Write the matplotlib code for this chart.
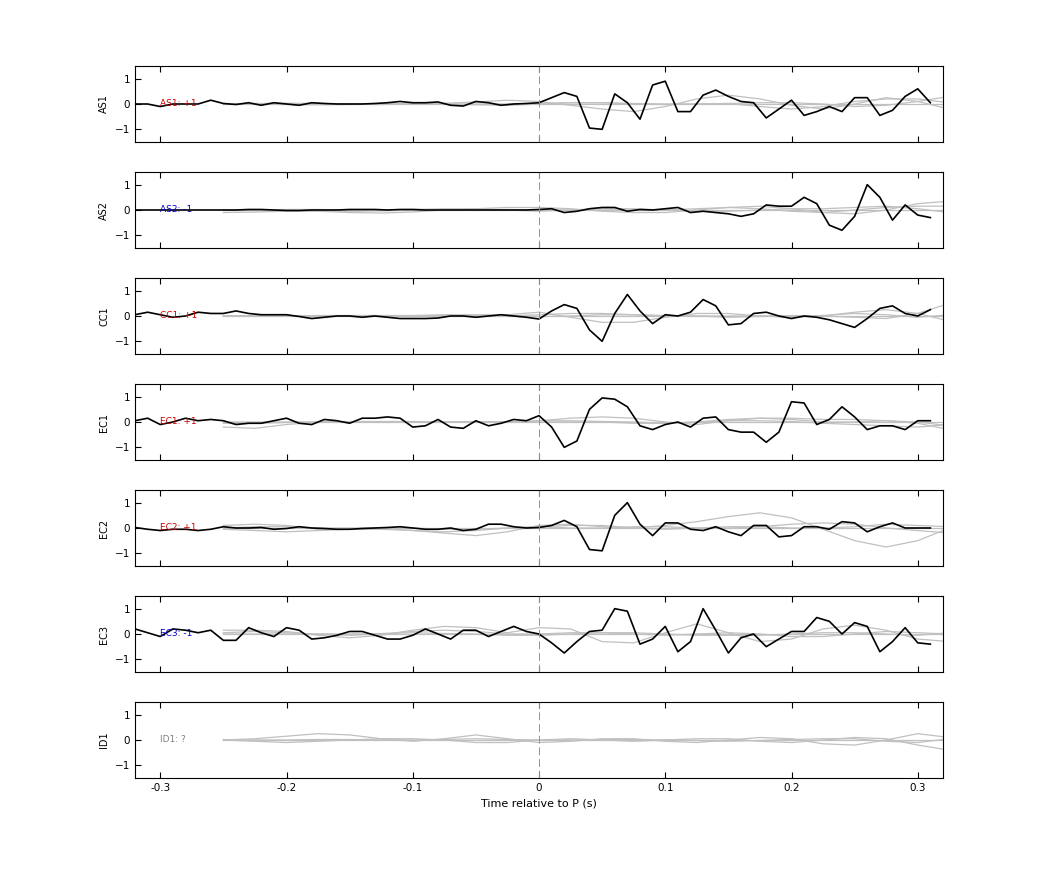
import numpy as np
import matplotlib.pyplot as plt

# station names and polarity labels
stations = ["AS1", "AS2", "CC1", "EC1", "EC2", "EC3", "ID1"]
labels = ["AS1: +1", "AS2: -1", "CC1: +1", "EC1: +1", "EC2: +1", "EC3: -1", "ID1: ?"]
label_colors = ["#cc0000", "#0000cc", "#cc0000", "#cc0000", "#cc0000", "#0000cc", "#808080"]

# observed trace, sampled every 0.01 s from -0.32 to 0.31
t_obs = np.round(np.arange(-0.32, 0.315, 0.01), 2)
obs = {
    "AS1": [0, 0, -0.1, 0, 0, 0, 0.15, 0.02, -0.02, 0.05, -0.05, 0.05, 0, -0.05, 0.05, 0.02,
            0, 0, 0, 0.02, 0.05, 0.1, 0.05, 0.05, 0.08, -0.05, -0.08, 0.1, 0.05, -0.05, 0, 0.02,
            0.05, 0.25, 0.45, 0.3, -0.95, -1.0, 0.4, 0.05, -0.6, 0.75, 0.9, -0.3, -0.3, 0.35, 0.55, 0.3,
            0.1, 0.05, -0.55, -0.2, 0.15, -0.45, -0.3, -0.1, -0.3, 0.25, 0.25, -0.45, -0.25, 0.3, 0.6, 0.05],
    "AS2": [0, 0, 0, 0, 0, 0, 0, 0, 0, 0.02, 0.02, 0, -0.02, -0.02, 0, 0,
            0, 0.02, 0.02, 0.02, 0, 0.02, 0.02, 0, 0, 0, 0, 0, 0, 0, 0, 0,
            0.02, 0.05, -0.1, -0.05, 0.05, 0.1, 0.1, -0.05, 0.02, 0, 0.05, 0.1, -0.1, -0.05, -0.1, -0.15,
            -0.25, -0.15, 0.2, 0.15, 0.15, 0.5, 0.25, -0.6, -0.8, -0.25, 1.0, 0.5, -0.4, 0.2, -0.2, -0.3],
    "CC1": [0.05, 0.15, 0.05, -0.05, 0, 0.15, 0.1, 0.1, 0.2, 0.1, 0.05, 0.05, 0.05, -0.02, -0.1, -0.05,
            0, 0, -0.05, 0, -0.05, -0.1, -0.1, -0.1, -0.08, 0, 0, -0.05, 0, 0.05, 0, -0.05,
            -0.12, 0.2, 0.45, 0.3, -0.55, -1.0, 0.1, 0.85, 0.2, -0.3, 0.05, 0, 0.15, 0.65, 0.4, -0.35,
            -0.3, 0.1, 0.15, 0, -0.1, 0, -0.05, -0.15, -0.3, -0.45, -0.1, 0.3, 0.4, 0.1, 0, 0.25],
    "EC1": [0.05, 0.15, -0.1, 0, 0.15, 0.05, 0.1, 0.05, -0.1, -0.05, -0.05, 0.05, 0.15, -0.05, -0.1, 0.1,
            0.05, -0.05, 0.15, 0.15, 0.2, 0.15, -0.2, -0.15, 0.1, -0.2, -0.25, 0.05, -0.15, -0.05, 0.1, 0.05,
            0.25, -0.2, -1.0, -0.75, 0.5, 0.95, 0.9, 0.6, -0.15, -0.3, -0.1, 0, -0.2, 0.15, 0.2, -0.3,
            -0.4, -0.4, -0.8, -0.4, 0.8, 0.75, -0.1, 0.1, 0.6, 0.2, -0.3, -0.15, -0.15, -0.3, 0.05, 0.05],
    "EC2": [0.02, -0.05, -0.1, -0.05, -0.05, -0.1, -0.05, 0.05, 0, 0, 0.02, -0.05, -0.02, 0.05, 0, -0.02,
            -0.05, -0.05, -0.02, 0, 0.02, 0.05, 0, -0.05, -0.05, 0, -0.1, -0.05, 0.15, 0.15, 0.05, 0,
            0.02, 0.1, 0.3, 0.05, -0.85, -0.9, 0.5, 1.0, 0.15, -0.3, 0.2, 0.2, -0.05, -0.1, 0.05, -0.15,
            -0.3, 0.1, 0.1, -0.35, -0.3, 0.05, 0.05, -0.05, 0.25, 0.2, -0.15, 0.05, 0.2, 0, 0, 0],
    "EC3": [0.2, 0.05, -0.1, 0.2, 0.15, 0.05, 0.15, -0.25, -0.25, 0.25, 0.05, -0.1, 0.25, 0.15, -0.2, -0.15,
            -0.05, 0.1, 0.1, -0.05, -0.2, -0.2, -0.05, 0.2, 0, -0.2, 0.15, 0.15, -0.1, 0.1, 0.3, 0.1,
            0, -0.35, -0.75, -0.3, 0.1, 0.15, 1.0, 0.9, -0.4, -0.2, 0.3, -0.7, -0.3, 1.0, 0.15, -0.75,
            -0.15, 0, -0.5, -0.2, 0.1, 0.1, 0.65, 0.5, 0, 0.45, 0.3, -0.7, -0.3, 0.25, -0.35, -0.4],
}

# synthetic (gray) traces, sampled every 0.025 s from -0.25 to 0.325
t_syn = np.round(np.arange(-0.25, 0.33, 0.025), 3)
syn = {
    "AS1": [[0, 0.02, 0.03, 0.02, 0, -0.02, 0, 0.03, 0.08, 0.15, 0.1, -0.05, -0.2, -0.3, -0.1, 0.2, 0.35, 0.2, -0.05, -0.2, 0, 0.25, 0.1, -0.2],
            [0, 0, 0, 0, 0, 0, 0, 0, 0, 0, 0.02, 0.05, 0.05, 0.02, 0, 0, 0.02, 0.05, 0.05, 0, -0.1, -0.05, 0.1, 0.3],
            [0, 0, -0.02, -0.03, -0.02, 0, 0.02, 0, -0.03, -0.05, 0, 0.05, 0.05, 0, -0.02, 0, 0.02, -0.1, -0.2, -0.1, 0.1, 0.2, 0.2, 0.05]],
    "AS2": [[-0.1, -0.08, -0.05, -0.05, -0.1, -0.12, -0.08, 0, 0.05, 0.1, 0.1, 0.05, -0.05, -0.1, -0.1, 0, 0.1, 0.15, 0.05, -0.1, -0.15, 0, 0.25, 0.35],
            [0, 0, 0.02, 0.02, 0, 0, 0.02, 0.05, 0.05, 0, -0.05, 0, 0.05, 0.05, 0, -0.05, -0.05, 0, 0.05, 0.05, 0.1, 0.15, 0.05, -0.1],
            [0, 0, 0, -0.02, -0.05, -0.03, 0, 0, 0, 0.02, 0, 0, 0, 0, 0, 0.05, 0.1, 0.05, -0.05, -0.1, 0, 0.1, 0.15, 0.15]],
    "CC1": [[0, 0, 0, 0.02, 0.02, 0.02, 0.02, 0.05, 0.05, 0.05, 0.15, -0.05, -0.25, -0.25, -0.05, 0.1, 0.1, 0, -0.05, 0, 0.15, 0.25, 0.1, -0.2],
            [0, 0, 0, 0, 0, 0, 0, 0, 0, 0, 0.05, 0.1, 0.1, 0.05, 0, 0, 0, 0, 0, 0.02, 0.1, 0.05, -0.05, 0.05],
            [0, 0, 0, 0, 0, 0, 0, 0, 0, 0, -0.02, 0, 0.05, 0.05, 0.02, 0, -0.05, -0.02, 0.02, 0, -0.05, -0.1, 0.1, 0.5]],
    "EC1": [[-0.2, -0.25, -0.1, 0, 0, 0, 0, 0, 0, 0, 0.05, 0.15, 0.2, 0.15, 0, -0.1, 0.05, 0.15, 0.1, 0, 0, 0.05, -0.05, -0.3],
            [-0.05, -0.05, -0.02, 0, 0.02, 0.02, 0.02, 0, 0, 0, 0.05, 0.05, 0.02, 0, -0.05, 0, 0.1, 0.15, 0.15, 0.1, 0.1, 0.05, 0, -0.15],
            [0, 0, 0, 0, 0, 0, 0, 0, 0, 0, 0, 0, 0, -0.05, -0.05, 0, 0.05, 0.05, 0.02, -0.05, -0.1, -0.15, -0.2, -0.1]],
    "EC2": [[0.1, 0.15, 0.1, -0.05, -0.05, 0, -0.1, -0.2, -0.3, -0.15, 0.1, 0.15, 0.05, 0, 0.1, 0.25, 0.45, 0.6, 0.4, -0.05, -0.5, -0.75, -0.5, 0],
            [-0.05, -0.1, -0.15, -0.1, -0.05, -0.05, -0.1, -0.15, -0.1, 0, 0.05, 0, 0, 0.05, 0.05, 0, 0, 0.05, 0.15, 0.2, 0.15, 0, -0.1, -0.2],
            [0, 0.05, 0.05, 0, 0, 0, 0, -0.05, -0.05, 0, 0.05, 0.1, 0.1, 0, -0.05, 0, 0.05, 0.05, 0, 0, 0.05, 0.15, 0.1, 0.05]],
    "EC3": [[0.15, 0.15, 0.1, -0.05, -0.15, -0.05, 0.15, 0.3, 0.25, 0.05, 0.25, 0.2, -0.3, -0.35, 0.05, 0.4, 0.05, -0.3, -0.2, 0.2, 0.35, 0.15, -0.2, -0.3],
            [0.05, 0.1, 0.05, 0, -0.05, 0, 0.1, 0.15, 0.1, 0, 0, 0.05, 0.05, 0, -0.05, 0, 0.05, 0, -0.1, -0.1, 0, 0.1, 0.05, 0],
            [0, 0, 0, 0, 0, 0.02, 0.05, 0.02, 0, -0.05, -0.05, 0, 0.05, 0.05, 0, -0.05, -0.05, -0.05, 0, 0.05, 0.05, 0, -0.05, 0.05]],
    "ID1": [[0, 0.05, 0.15, 0.25, 0.2, 0.05, -0.05, 0.05, 0.2, 0.05, -0.1, -0.05, 0.05, 0.05, -0.05, -0.1, 0, 0.1, 0.05, -0.15, -0.2, 0, 0.25, 0.1],
            [0, -0.05, -0.1, -0.05, 0, 0.05, 0.05, 0, -0.1, -0.1, 0, 0.05, 0, -0.05, 0, 0.05, 0.05, -0.05, -0.1, 0, 0.1, 0.05, -0.2, -0.4],
            [0, 0, 0, 0.02, 0.02, 0, 0, 0.02, 0.05, 0.02, 0, 0, 0.02, 0.02, 0, -0.02, -0.05, -0.02, 0.02, 0.05, 0.05, -0.05, -0.1, 0.05]],
}

fig = plt.figure(figsize=(10.42, 8.75), dpi=100)
W, H = 1042, 875
left, right = 135, 943
top0, ph, gap = 66, 76, 30

for i, st in enumerate(stations):
    y0 = top0 + i * (ph + gap)
    ax = fig.add_axes([left / W, 1 - (y0 + ph) / H, (right - left) / W, ph / H])
    for s in syn[st]:
        ax.plot(t_syn, s, color="#c0c0c0", lw=0.9)
    ax.plot([-0.25, 0.32], [0, 0], color="#c0c0c0", lw=0.9)
    if st in obs:
        ax.plot(t_obs, obs[st], color="black", lw=1.2)
    ax.axvline(0, color="#e07070", lw=0.7, dashes=(8, 4))
    ax.text(-0.3, 0, labels[i], color=label_colors[i], fontsize=6.5, va="center", ha="left")
    ax.set_xlim(-0.32, 0.32)
    ax.set_ylim(-1.5, 1.5)
    ax.set_yticks([-1, 0, 1])
    ax.set_xticks([-0.3, -0.2, -0.1, 0, 0.1, 0.2, 0.3])
    ax.tick_params(direction="in", top=True, labelsize=7.5, length=4)
    ax.set_ylabel(st, fontsize=7)
    if i < len(stations) - 1:
        ax.set_xticklabels([])
    else:
        ax.set_xticklabels(["-0.3", "-0.2", "-0.1", "0", "0.1", "0.2", "0.3"])
        ax.set_xlabel("Time relative to P (s)", fontsize=8)

fig.savefig("out.png", dpi=100)
